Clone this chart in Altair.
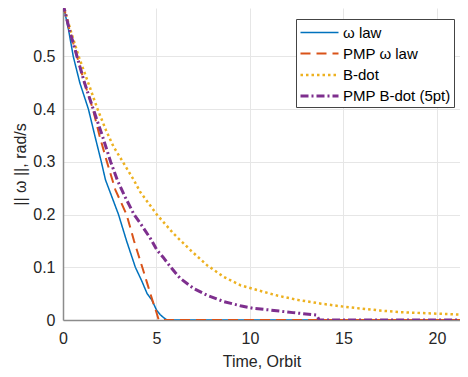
import altair as alt
import pandas as pd

# ω law
w_x = [0, 0.3, 0.55, 0.9, 1.36, 1.7, 2.05, 2.27, 2.6, 2.97, 3.4, 3.87, 4.2, 4.5, 4.75, 5.0, 5.2, 5.4, 5.56, 21.5]
w_y = [0.6, 0.55, 0.5, 0.45, 0.4, 0.35, 0.3, 0.266, 0.235, 0.2, 0.15, 0.1, 0.075, 0.05, 0.038, 0.019, 0.01, 0.004, 0.0, 0.0]

# PMP ω law
pw_x = [0, 0.35, 0.75, 1.15, 1.6, 1.95, 2.35, 2.8, 3.4, 3.8, 4.24, 4.5, 4.67, 4.85, 4.95, 5.12, 21.5]
pw_y = [0.6, 0.55, 0.5, 0.45, 0.4, 0.35, 0.3, 0.247, 0.2, 0.15, 0.1, 0.07, 0.05, 0.03, 0.02, 0.0, 0.0]

# B-dot
b_x = [0, 0.4, 0.84, 1.35, 1.85, 2.3, 2.7, 3.2, 3.78, 4.13, 5.02, 5.91, 6.8, 7.7, 8.59, 9.48, 10.37,
       11.5, 12.58, 13.8, 15.07, 16.95, 17.96, 19.98, 21.5]
b_y = [0.6, 0.55, 0.5, 0.45, 0.4, 0.36, 0.329, 0.3, 0.266, 0.243, 0.2, 0.164, 0.133, 0.104, 0.082, 0.066, 0.057,
       0.046, 0.038, 0.031, 0.025, 0.018, 0.015, 0.012, 0.010]

# PMP B-dot (5pt)
pb_x = [0, 0.35, 0.75, 1.15, 1.62, 2.1, 2.55, 2.9, 3.3, 3.8, 4.2, 4.67, 5.02, 5.4, 5.74, 6.27, 6.98,
        7.7, 8.59, 9.48, 10.2, 11.07, 12.3, 13.56, 13.7, 21.5]
pb_y = [0.6, 0.55, 0.5, 0.45, 0.4, 0.35, 0.3, 0.266, 0.235, 0.2, 0.18, 0.155, 0.133, 0.117, 0.101, 0.079, 0.06,
        0.047, 0.035, 0.027, 0.022, 0.019, 0.014, 0.0095, 0.0, 0.0]

series_names = ["ω law", "PMP ω law", "\u2002B-dot", "PMP B-dot (5pt)"]
series_colors = ["#0072BD", "#D95319", "#EDB120", "#7E2F8E"]
series_dashes = [[1, 0], [10, 6], [2.5, 3], [8, 3, 2, 3]]
series_widths = [1.5, 3, 2.5, 3]

x_ticks = [0, 5, 10, 15, 20]
y_ticks = [0, 0.1, 0.2, 0.3, 0.4, 0.5]

rows = []
for name, xs, ys in zip(series_names, [w_x, pw_x, b_x, pb_x], [w_y, pw_y, b_y, pb_y]):
    for i, (xv, yv) in enumerate(zip(xs, ys)):
        rows.append({"series": name, "t": xv, "w": yv, "i": i})
df = pd.DataFrame(rows)

FONT = "Liberation Sans"

chart = alt.Chart(df).mark_line(clip=True, strokeCap="butt", strokeJoin="round").encode(
    x=alt.X("t:Q", scale=alt.Scale(domain=[0, 21.23], nice=False, zero=False),
            axis=alt.Axis(title="Time, Orbit", values=x_ticks, format="~g", labelFlush=False,
                          ticks=False, labelPadding=10, titlePadding=7)),
    y=alt.Y("w:Q", scale=alt.Scale(domain=[0, 0.592], nice=False),
            axis=alt.Axis(title="|| ω ||, rad/s", values=y_ticks, format="~g", ticks=False,
                          labelPadding=8, titlePadding=4)),
    color=alt.Color("series:N", scale=alt.Scale(domain=series_names, range=series_colors),
                    legend=alt.Legend(title=None, orient="none", legendX=233, legendY=11,
                                      symbolType="M-1,0H3", symbolSize=361,
                                      fillColor="white", strokeColor="#444444",
                                      padding=3, rowPadding=2, labelOffset=22,
                                      labelFontSize=15, labelFont=FONT, labelColor="#000000")),
    strokeDash=alt.StrokeDash("series:N", scale=alt.Scale(domain=series_names, range=series_dashes)),
    strokeWidth=alt.StrokeWidth("series:N", scale=alt.Scale(domain=series_names, range=series_widths)),
    order="i:Q",
).properties(
    width=397, height=312, padding={"left": 4, "top": 0, "right": 0, "bottom": 0}
).configure_view(stroke=None).configure_axis(
    labelFont=FONT, titleFont=FONT, labelFontSize=16, titleFontSize=16,
    labelColor="#262626", titleColor="#262626", titleFontWeight="normal",
    gridColor="#e6e6e6", gridWidth=1, domainColor="#8c8c8c", domainWidth=1.5,
)

chart.save("out.html", embed_options={"renderer": "svg", "actions": False})
